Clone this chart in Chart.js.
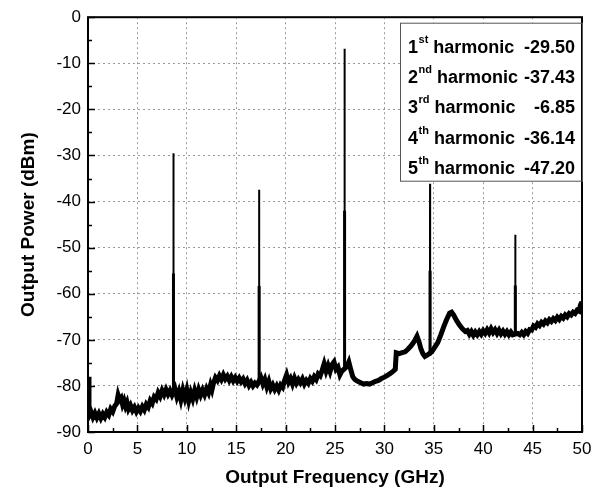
<!DOCTYPE html>
<html>
<head>
<meta charset="utf-8">
<script src="https://cdn.jsdelivr.net/npm/chart.js@4.4.0/dist/chart.umd.min.js"></script>
<style>
  html, body { margin: 0; padding: 0; background: #fff; }
  #spectrumChart { display: block; }
</style>
</head>
<body>
<canvas id="spectrumChart" width="605" height="493"></canvas>
<script>
// noise floor of the spectrum (GHz, dBm)
const floorFreq = [
  0.00, 0.10, 0.30, 0.50, 0.70, 0.90, 1.10, 1.30, 1.50, 1.70, 1.90, 2.10, 2.30, 2.50, 2.70, 2.90,
  3.05, 3.20, 3.35, 3.50, 3.65, 3.80, 3.95, 4.10, 4.30, 4.50, 4.70, 4.90, 5.10, 5.30, 5.50, 5.70,
  5.90, 6.10, 6.30, 6.50, 6.70, 6.90, 7.10, 7.30, 7.50, 7.70, 7.90, 8.10, 8.30, 8.50, 8.80, 9.00,
  9.20, 9.40, 9.60, 9.80, 10.00, 10.20, 10.40, 10.60, 10.80, 11.00, 11.20, 11.40, 11.60, 11.80, 12.00, 12.20,
  12.40, 12.55, 12.70, 12.90, 13.10, 13.30, 13.50, 13.70, 13.90, 14.10, 14.30, 14.50, 14.70, 14.90, 15.10, 15.30,
  15.50, 15.70, 15.90, 16.10, 16.30, 16.50, 16.70, 16.90, 17.10, 17.50, 17.70, 17.90, 18.10, 18.30, 18.50, 18.70,
  18.90, 19.10, 19.30, 19.50, 19.70, 19.90, 20.10, 20.30, 20.50, 20.70, 20.90, 21.10, 21.30, 21.50, 21.70, 21.90,
  22.10, 22.30, 22.50, 22.70, 22.90, 23.10, 23.30, 23.50, 23.70, 23.90, 24.10, 24.30, 24.50, 24.70, 24.90, 25.10,
  25.30, 25.50, 25.70, 26.20, 26.40, 26.60, 26.80, 27.00, 27.30, 27.60, 27.90, 28.20, 28.50, 28.80, 29.10, 29.40,
  29.70, 30.00, 30.30, 30.60, 30.90, 31.10, 31.20, 31.50, 31.80, 32.10, 32.40, 32.70, 33.00, 33.30, 33.50, 33.70,
  33.90, 34.10, 34.40, 34.80, 35.10, 35.40, 35.70, 36.00, 36.30, 36.60, 36.80, 37.00, 37.30, 37.60, 37.90, 38.20,
  38.40, 38.60, 38.80, 39.00, 39.20, 39.40, 39.60, 39.80, 40.00, 40.20, 40.40, 40.60, 40.80, 41.00, 41.20, 41.40,
  41.60, 41.80, 42.00, 42.20, 42.40, 42.60, 42.80, 43.00, 43.50, 43.70, 43.90, 44.10, 44.30, 44.50, 44.70, 44.90,
  45.10, 45.30, 45.50, 45.70, 45.90, 46.10, 46.30, 46.50, 46.70, 46.90, 47.10, 47.30, 47.50, 47.70, 47.90, 48.10,
  48.30, 48.50, 48.70, 48.90, 49.10, 49.30, 49.50, 49.70, 49.85, 50.00
];
const floorPower = [
  -78.0, -86.5, -85.6, -86.8, -85.9, -86.9, -86.0, -87.0, -86.1, -86.8, -85.7, -86.3, -85.0, -85.6, -84.4, -83.8,
  -82.0, -83.0, -82.6, -84.0, -83.2, -84.4, -83.6, -85.0, -84.2, -85.3, -84.6, -85.6, -84.8, -85.5, -84.5, -85.2,
  -84.0, -84.6, -83.2, -83.8, -82.4, -82.9, -81.5, -82.3, -81.0, -81.9, -80.8, -81.8, -81.0, -82.0, -80.6, -82.4,
  -81.2, -83.0, -81.0, -82.6, -80.9, -83.2, -81.5, -82.8, -81.0, -82.4, -80.8, -82.0, -80.9, -81.9, -80.6, -81.5,
  -79.8, -80.8, -79.4, -78.2, -78.8, -77.8, -78.6, -77.6, -78.5, -77.9, -78.8, -78.0, -78.9, -78.2, -79.0, -78.3,
  -79.1, -78.5, -79.5, -78.8, -79.9, -79.2, -80.0, -79.4, -79.8, -78.2, -79.6, -78.6, -80.2, -79.0, -80.6, -79.8,
  -80.8, -80.0, -80.9, -79.8, -80.3, -78.8, -77.6, -79.2, -78.4, -79.6, -78.3, -79.4, -78.6, -79.3, -78.5, -79.6,
  -78.8, -79.4, -78.4, -79.0, -78.0, -78.6, -77.4, -77.8, -76.6, -75.2, -76.8, -75.6, -76.9, -75.4, -74.8, -76.4,
  -75.9, -77.6, -76.8, -75.8, -74.8, -76.5, -78.0, -78.6, -79.0, -79.3, -79.6, -79.5, -79.6, -79.3, -79.0, -78.8,
  -78.4, -78.1, -77.7, -77.3, -76.8, -76.4, -72.8, -73.0, -72.8, -72.6, -72.0, -71.3, -70.4, -69.2, -70.4, -72.0,
  -73.0, -73.6, -73.2, -72.6, -71.6, -70.6, -69.0, -67.2, -65.6, -64.2, -64.0, -64.6, -65.8, -66.8, -67.6, -68.2,
  -68.0, -68.8, -68.2, -69.0, -68.3, -68.9, -68.2, -68.8, -68.0, -68.6, -67.8, -68.5, -67.6, -68.4, -67.8, -68.6,
  -67.9, -68.7, -68.1, -68.8, -68.2, -68.9, -68.3, -68.9, -68.6, -68.9, -68.4, -68.9, -68.2, -68.6, -67.8, -67.9,
  -67.0, -67.3, -66.5, -66.9, -66.2, -66.6, -65.9, -66.3, -65.6, -66.0, -65.4, -65.8, -65.1, -65.6, -64.9, -65.3,
  -64.6, -65.0, -64.3, -64.6, -64.0, -64.3, -63.6, -63.8, -62.4, -61.8
];

// harmonic lines
const harmonicOrder = ['1', '2', '3', '4', '5'];
const harmonicSuffix = ['st', 'nd', 'rd', 'th', 'th'];
const harmonicFreq = [8.65, 17.32, 25.97, 34.62, 43.25];
const harmonicPeak = [-29.50, -37.43, -6.85, -36.14, -47.20];
const harmonicShoulder = [-55.6, -58.3, -42.0, -55.0, -58.2];
const harmonicBase = [-81.5, -79.0, -76.5, -73.4, -68.6];

const FONT = '"Liberation Sans", Arial, Helvetica, sans-serif';

const floorPoints = floorFreq.map((f, i) => ({ x: f, y: floorPower[i] }));

// each spike: base -> peak -> base, then a gap; the lower part is drawn heavier
const spikePoints = [];
const shoulderPoints = [];
harmonicFreq.forEach((f, i) => {
    spikePoints.push({ x: f - 0.01, y: harmonicBase[i] });
    spikePoints.push({ x: f, y: harmonicPeak[i] });
    spikePoints.push({ x: f + 0.01, y: harmonicBase[i] });
    spikePoints.push({ x: f + 0.02, y: null });
    shoulderPoints.push({ x: f, y: harmonicBase[i] });
    shoulderPoints.push({ x: f, y: harmonicShoulder[i] });
    shoulderPoints.push({ x: f + 0.02, y: null });
});

// frame, inward ticks and the harmonic table
const framePlugin = {
    id: 'framePlugin',
    afterDatasetsDraw(chart) {
        const { ctx, chartArea: a, scales: { x, y } } = chart;
        ctx.save();
        ctx.strokeStyle = '#000';
        ctx.lineWidth = 1.5;
        ctx.beginPath();
        for (let v = 0; v <= 50; v += 2.5) {
            const px = Math.round(x.getPixelForValue(v)) + 0.5;
            const len = v % 5 === 0 ? 7 : 4;
            ctx.moveTo(px, a.bottom);
            ctx.lineTo(px, a.bottom - len);
        }
        for (let v = -90; v <= 0; v += 5) {
            const py = Math.round(y.getPixelForValue(v)) + 0.5;
            const len = v % 10 === 0 ? 7 : 4;
            ctx.moveTo(a.left, py);
            ctx.lineTo(a.left + len, py);
        }
        ctx.stroke();

        ctx.lineWidth = 2;
        ctx.strokeRect(a.left, a.top, a.right - a.left, a.bottom - a.top);

        // table box
        const boxLeft = a.right - 182;
        const boxTop = a.top + 5.5;
        const boxH = 158;
        ctx.fillStyle = '#fff';
        ctx.fillRect(boxLeft, boxTop, a.right - boxLeft - 1, boxH);
        ctx.strokeStyle = '#555';
        ctx.lineWidth = 1;
        ctx.strokeRect(boxLeft + 0.5, boxTop + 0.5, a.right - boxLeft, boxH);

        ctx.fillStyle = '#000';
        ctx.textBaseline = 'alphabetic';
        harmonicOrder.forEach((n, i) => {
            const base = boxTop + 30 + i * 30.3;
            let cx = boxLeft + 8;
            ctx.textAlign = 'left';
            ctx.font = 'bold 18px ' + FONT;
            ctx.fillText(n, cx, base);
            cx += ctx.measureText(n).width + 0.5;
            ctx.font = 'bold 11px ' + FONT;
            ctx.fillText(harmonicSuffix[i], cx, base - 10);
            cx += ctx.measureText(harmonicSuffix[i]).width + 5;
            ctx.font = 'bold 18px ' + FONT;
            ctx.fillText('harmonic', cx, base);
            ctx.textAlign = 'right';
            ctx.fillText(harmonicPeak[i].toFixed(2), a.right - 7, base);
        });
        ctx.restore();
    }
};

const ctx = document.getElementById('spectrumChart').getContext('2d');
const chart = new Chart(ctx, {
    type: 'line',
    data: {
        datasets: [
            {
                label: 'Noise floor',
                data: floorPoints,
                borderColor: '#000',
                borderWidth: 5,
                pointRadius: 0,
                tension: 0
            },
            {
                label: 'Harmonics',
                data: spikePoints,
                borderColor: '#000',
                borderWidth: 2,
                pointRadius: 0,
                tension: 0,
                spanGaps: false
            },
            {
                label: 'Harmonic shoulders',
                data: shoulderPoints,
                borderColor: '#000',
                borderWidth: 3,
                pointRadius: 0,
                tension: 0,
                spanGaps: false
            }
        ]
    },
    options: {
        responsive: false,
        animation: false,
        devicePixelRatio: 1,
        layout: { padding: { left: 0, right: 23, top: 16, bottom: 0 } },
        plugins: {
            legend: { display: false },
            tooltip: { enabled: false }
        },
        scales: {
            x: {
                type: 'linear',
                min: 0,
                max: 50,
                ticks: {
                    stepSize: 5,
                    color: '#000',
                    padding: 7,
                    maxRotation: 0,
                    font: { family: FONT, size: 17 }
                },
                grid: {
                    color: '#9a9a9a',
                    drawTicks: false
                },
                border: { display: false, dash: [2, 3] },
                title: {
                    display: true,
                    text: 'Output Frequency (GHz)',
                    color: '#000',
                    padding: { top: 0, bottom: 4 },
                    font: { family: FONT, size: 19, weight: 'bold' }
                },
                afterFit(scale) { scale.height = 61; }
            },
            y: {
                min: -90,
                max: 0,
                ticks: {
                    stepSize: 10,
                    color: '#000',
                    padding: 7,
                    font: { family: FONT, size: 17 }
                },
                grid: {
                    color: '#9a9a9a',
                    drawTicks: false
                },
                border: { display: false, dash: [2, 3] },
                title: {
                    display: true,
                    text: 'Output Power (dBm)',
                    color: '#000',
                    padding: { top: 17, bottom: 0 },
                    font: { family: FONT, size: 19, weight: 'bold' }
                },
                afterFit(scale) { scale.width = 88; }
            }
        }
    },
    plugins: [framePlugin]
});
</script>
</body>
</html>
